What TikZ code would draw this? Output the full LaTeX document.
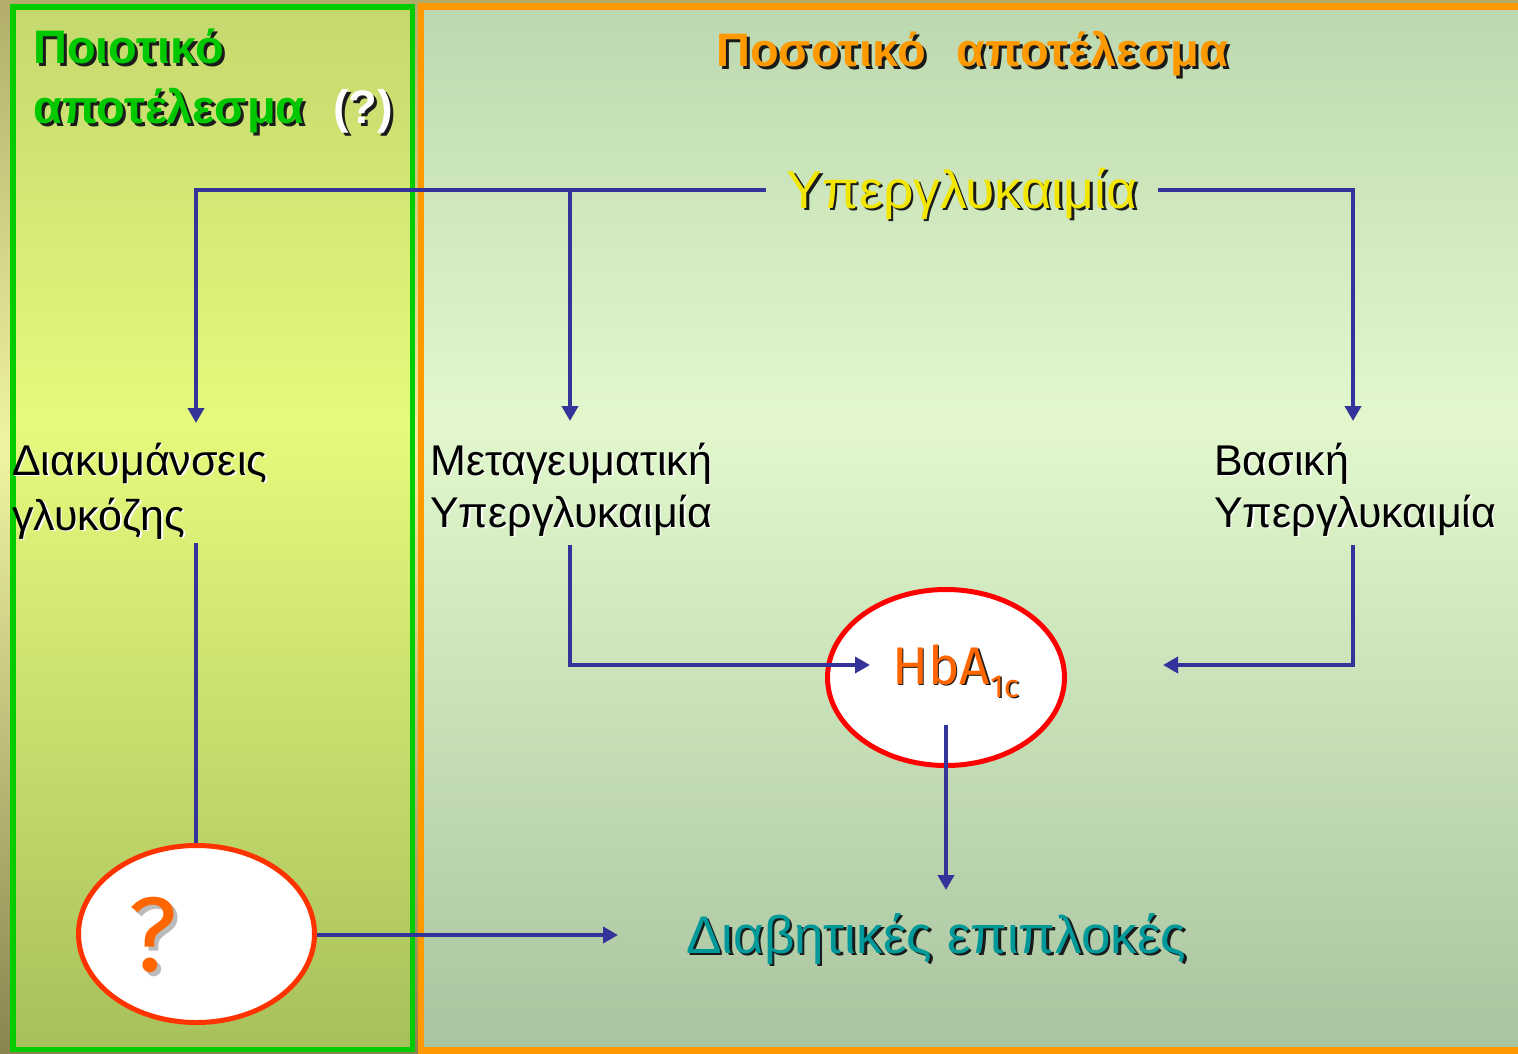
\documentclass[tikz,border=0pt]{standalone}
\usepackage{fontspec}
\setmainfont{Liberation Sans}
\newfontfamily\roundfont{Fira Sans}
\usetikzlibrary{arrows.meta,shapes.geometric}

\definecolor{outertop}{HTML}{B2AE6A}
\definecolor{outermid}{HTML}{F0F4A0}
\definecolor{outerbot}{HTML}{8A8450}
\definecolor{lefttop}{HTML}{C4D86E}
\definecolor{leftmid}{HTML}{E6FA7C}
\definecolor{leftbot}{HTML}{A8C05C}
\definecolor{righttop}{HTML}{BCD8B0}
\definecolor{rightmid}{HTML}{E2F8CC}
\definecolor{rightbot}{HTML}{A8C4A0}
\definecolor{framegreen}{HTML}{00CC00}
\definecolor{frameorange}{HTML}{FF9900}
\definecolor{linkblue}{HTML}{333399}
\definecolor{titlegreen}{HTML}{00C800}
\definecolor{titleorange}{HTML}{FF9900}
\definecolor{hyperyellow}{HTML}{F2E600}
\definecolor{compteal}{HTML}{009999}
\definecolor{hbaorange}{HTML}{FF6600}
\definecolor{hbared}{HTML}{FF0000}
\definecolor{qred}{HTML}{FF3300}
\definecolor{shadowdark}{HTML}{1A1A1A}
\definecolor{shadowgrey}{HTML}{BBBBBB}

% text with a drop shadow: offset, shadow colour, text colour, text
\newcommand\shtext[4]{\rlap{\kern#1\raisebox{-#1}{\textcolor{#2}{#4}}}\textcolor{#3}{#4}}

\begin{document}
\begin{tikzpicture}[x=1pt,y=-1pt,
  txt/.style={inner sep=0pt, anchor=base west},
  titlefont/.style={font=\fontsize{47}{56}\selectfont\bfseries},
  labelfont/.style={font=\fontsize{43}{50}\selectfont},
  link/.style={draw=linkblue, line width=4.5pt},
  conn/.style={link, -{Triangle[length=15pt,width=16pt]}},
  bubble/.style={ellipse, fill=white, line width=5pt, inner sep=0pt}]
\useasboundingbox (0,0) rectangle (1518,1053);

% page background
\fill[top color=outertop, bottom color=outermid] (0,0) rectangle (1518,450);
\fill[top color=outermid, bottom color=outerbot] (0,450) rectangle (1518,1053);

% qualitative panel
\fill[top color=lefttop, bottom color=leftmid] (12.75,7) rectangle (412.5,420);
\fill[top color=leftmid, bottom color=leftbot] (12.75,420) rectangle (412.5,1049.5);
\draw[framegreen, line width=5.5pt] (12.75,7) rectangle (412.5,1049.5);

% quantitative panel
\fill[top color=righttop, bottom color=rightmid] (421,6.5) rectangle (1518,420);
\fill[top color=rightmid, bottom color=rightbot] (421,420) rectangle (1518,1050.5);
\draw[frameorange, line width=6.5pt] (1518,6.5) -| (421,1050.5) -- (1518,1050.5);

% bubbles
\node[bubble, draw=qred, minimum width=236pt, minimum height=177pt] (qm) at (196.5,934) {};
\node[bubble, draw=hbared, minimum width=237pt, minimum height=176pt] (hba) at (946,677.5) {};

% titles
\node[txt, titlefont] (qtitle) at (33,63) {\shtext{3pt}{shadowdark}{titlegreen}{Ποιοτικό}};
\node[txt, titlefont] (qtitle2) at (33,123) {\shtext{3pt}{shadowdark}{titlegreen}{αποτέλεσμα}};
\node[txt, titlefont] (qmark) at (333,123) {\shtext{3pt}{shadowdark}{white}{(?)}};
\node[txt, titlefont] (ntitle) at (716,66) {\shtext{3pt}{shadowdark}{titleorange}{Ποσοτικό\hspace{18pt} αποτέλεσμα}};

% central term
\node[inner xsep=20pt, inner ysep=0pt, anchor=base, text height=48pt, text depth=12pt,
      font=\fontsize{53.5}{60}\selectfont] (hyper) at (962,208)
  {\shtext{2.5pt}{shadowdark}{hyperyellow}{Υπεργλυκαιμία}};

% branch labels
\node[txt, labelfont] (fluct) at (12,475) {\shtext{1.5pt}{white}{black}{Διακυμάνσεις}};
\node[txt, labelfont] (fluct2) at (12,530) {\shtext{1.5pt}{white}{black}{γλυκόζης}};
\node[txt, labelfont] (post) at (430,475) {\shtext{1.5pt}{white}{black}{Μεταγευματική}};
\node[txt, labelfont] (post2) at (430,527) {\shtext{1.5pt}{white}{black}{Υπεργλυκαιμία}};
\node[txt, labelfont] (basal) at (1214,475) {\shtext{1.5pt}{white}{black}{Βασική}};
\node[txt, labelfont] (basal2) at (1214,527) {\shtext{1.5pt}{white}{black}{Υπεργλυκαιμία}};

% outcome
\node[txt, font=\fontsize{53}{60}\selectfont] (comp) at (686,953)
  {\shtext{2.5pt}{shadowdark}{compteal}{Διαβητικές επιπλοκές}};

% bubble contents
\node[txt, font=\roundfont\fontsize{53}{60}\selectfont] (hbatext) at (892,684)
  {\shtext{1.5pt}{shadowdark}{hbaorange}{HbA\raisebox{-13pt}{\fontsize{32}{32}\selectfont 1c}}};
\node[inner sep=0pt, anchor=base, font=\roundfont\fontsize{106}{110}\selectfont] (qtext) at (153,971)
  {\shtext{4pt}{shadowgrey}{hbaorange}{?}};

% connector end points
\coordinate (fluct-in) at (196,423);
\coordinate (fluct-out) at (196,543);
\coordinate (post-in) at (570,421);
\coordinate (post-out) at (570,545);
\coordinate (basal-in) at (1353,421);
\coordinate (basal-out) at (1353,545);
\coordinate (hba-in-l) at (870,665);
\coordinate (hba-in-r) at (1163,665);
\coordinate (hba-out) at (946,725);
\coordinate (comp-top) at (946,890);
\coordinate (comp-left) at (618,935);

% connectors
\draw[conn] (hyper.west) -| (fluct-in);
\draw[conn] (post-in |- hyper.west) -- (post-in);
\draw[conn] (hyper.east) -| (basal-in);
\draw[link] (fluct-out) -- (fluct-out |- qm.north);
\draw[conn] (qm.east |- comp-left) -- (comp-left);
\draw[conn] (post-out) |- (hba-in-l);
\draw[conn] (basal-out) |- (hba-in-r);
\draw[conn] (hba-out) -- (comp-top);
\end{tikzpicture}
\end{document}
